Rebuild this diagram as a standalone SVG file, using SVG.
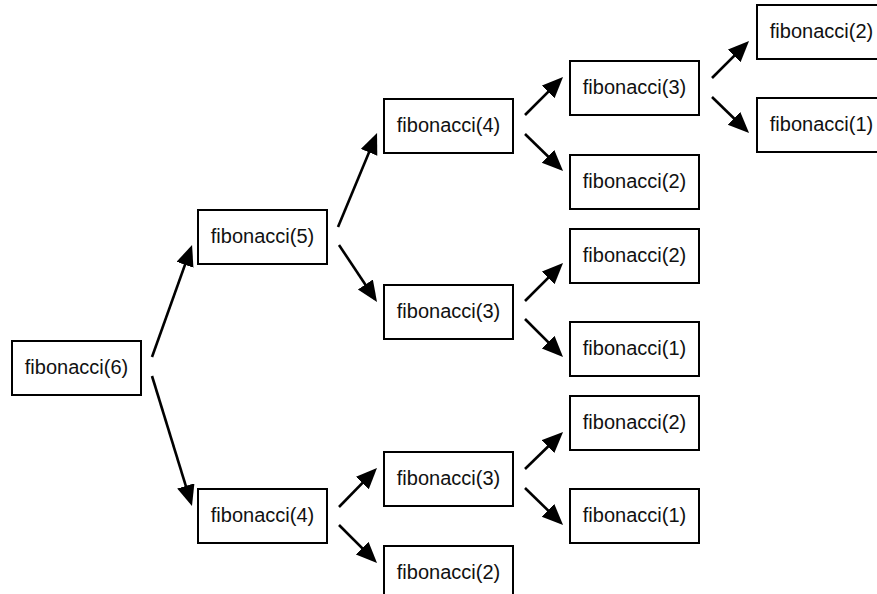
<svg xmlns="http://www.w3.org/2000/svg" width="877" height="594" viewBox="0 0 877 594">
<style>
.box{fill:#fff;stroke:#000;stroke-width:2}
.lbl{font-family:"Liberation Sans",Arial,Helvetica,sans-serif;font-size:20px;fill:#111;text-anchor:middle}
.edge{stroke:#000;stroke-width:2.6;fill:none;marker-end:url(#ah)}
</style>
<defs>
<marker id="ah" markerUnits="userSpaceOnUse" markerWidth="22" markerHeight="19" refX="17" refY="9" orient="auto">
<path d="M0,0 L21,9 L0,18 z" fill="#000"/>
</marker>
</defs>
<rect width="877" height="594" fill="#fff"/>
<g id="connectors">
<line class="edge" x1="152" y1="357" x2="190.7" y2="248.8"/>
<line class="edge" x1="152" y1="376" x2="190.8" y2="502.2"/>
<line class="edge" x1="338" y1="227" x2="375.5" y2="136.7"/>
<line class="edge" x1="339" y1="245" x2="374.8" y2="298.7"/>
<line class="edge" x1="339" y1="507" x2="374.2" y2="470.9"/>
<line class="edge" x1="339" y1="525" x2="374.2" y2="560.2"/>
<line class="edge" x1="525" y1="115" x2="560.2" y2="79.8"/>
<line class="edge" x1="525" y1="134" x2="560.2" y2="168.2"/>
<line class="edge" x1="525" y1="301" x2="560.2" y2="265.8"/>
<line class="edge" x1="525" y1="319" x2="560.2" y2="354.2"/>
<line class="edge" x1="525" y1="469" x2="560.2" y2="434.8"/>
<line class="edge" x1="525" y1="488" x2="560.2" y2="522.2"/>
<line class="edge" x1="712" y1="78" x2="746.2" y2="43.8"/>
<line class="edge" x1="712" y1="97" x2="746.2" y2="130.2"/>
</g>
<g id="n6"><rect class="box" x="12" y="341" width="129" height="54"/><text class="lbl" x="76.5" y="373.5">fibonacci(6)</text></g>
<g id="n5"><rect class="box" x="198" y="210" width="129" height="54"/><text class="lbl" x="262.5" y="242.5">fibonacci(5)</text></g>
<g id="n4a"><rect class="box" x="198" y="489" width="129" height="54"/><text class="lbl" x="262.5" y="521.5">fibonacci(4)</text></g>
<g id="n4b"><rect class="box" x="384" y="99" width="129" height="54"/><text class="lbl" x="448.5" y="131.5">fibonacci(4)</text></g>
<g id="n3a"><rect class="box" x="384" y="285" width="129" height="54"/><text class="lbl" x="448.5" y="317.5">fibonacci(3)</text></g>
<g id="n3b"><rect class="box" x="384" y="452" width="129" height="54"/><text class="lbl" x="448.5" y="484.5">fibonacci(3)</text></g>
<g id="n2a"><rect class="box" x="384" y="546" width="129" height="54"/><text class="lbl" x="448.5" y="578.5">fibonacci(2)</text></g>
<g id="n3c"><rect class="box" x="570" y="61" width="129" height="54"/><text class="lbl" x="634.5" y="93.5">fibonacci(3)</text></g>
<g id="n2b"><rect class="box" x="570" y="155" width="129" height="54"/><text class="lbl" x="634.5" y="187.5">fibonacci(2)</text></g>
<g id="n2c"><rect class="box" x="570" y="229" width="129" height="54"/><text class="lbl" x="634.5" y="261.5">fibonacci(2)</text></g>
<g id="n1a"><rect class="box" x="570" y="322" width="129" height="54"/><text class="lbl" x="634.5" y="354.5">fibonacci(1)</text></g>
<g id="n2d"><rect class="box" x="570" y="396" width="129" height="54"/><text class="lbl" x="634.5" y="428.5">fibonacci(2)</text></g>
<g id="n1b"><rect class="box" x="570" y="489" width="129" height="54"/><text class="lbl" x="634.5" y="521.5">fibonacci(1)</text></g>
<g id="n2e"><rect class="box" x="757" y="5" width="129" height="54"/><text class="lbl" x="821.5" y="37.5">fibonacci(2)</text></g>
<g id="n1c"><rect class="box" x="757" y="98" width="129" height="54"/><text class="lbl" x="821.5" y="130.5">fibonacci(1)</text></g>
</svg>
